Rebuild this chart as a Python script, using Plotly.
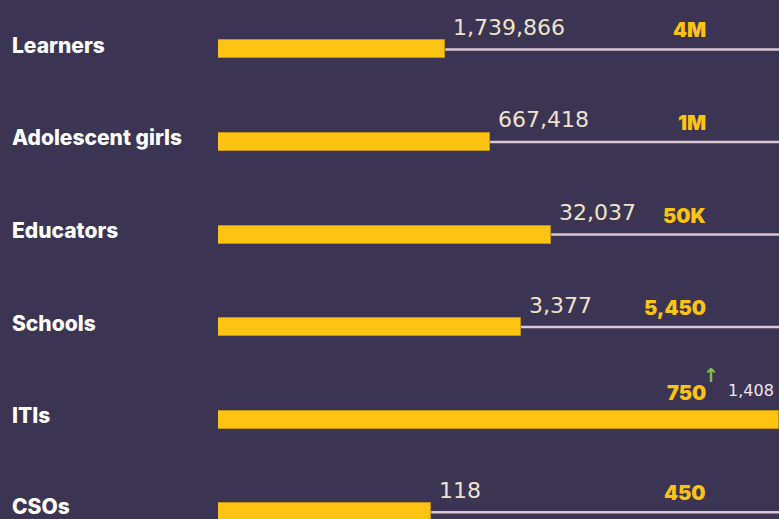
import plotly.graph_objects as go

# ---- data ----
categories = ["Learners", "Adolescent girls", "Educators", "Schools", "ITIs", "CSOs"]
achieved = [1739866, 667418, 32037, 3377, 1408, 118]
achieved_labels = ["1,739,866", "667,418", "32,037", "3,377", "1,408", "118"]
target_labels = ["4M", "1M", "50K", "5,450", "750", "450"]
# bar length as share of the track, as drawn in the reference
bar_share = [0.405, 0.485, 0.594, 0.540, 1.0, 0.380]

BG = "#3b3553"
GOLD = "#fdc312"
CREAM = "#efe3cc"
LINE = "#dcc8d2"

rows = list(range(len(categories)))

fig = go.Figure()

# target tracks (from bar end to the edge)
for i, s in zip(rows, bar_share):
    if s < 1:
        fig.add_trace(go.Scatter(
            x=[s, 1.0], y=[i, i], mode="lines",
            line=dict(color=LINE, width=2.5), hoverinfo="skip", showlegend=False))

fig.add_trace(go.Bar(
    x=bar_share, y=rows, orientation="h", width=0.1945,
    marker=dict(color=GOLD, line=dict(color="#c29411", width=1)),
    hoverinfo="skip", showlegend=False))

ann = []
for i, cat in zip(rows, categories):
    ann.append(dict(x=0, xref="paper", y=i, yref="y", text=cat, showarrow=False,
                    xanchor="left", xshift=-208, yanchor="middle",
                    yshift=(6 if i == len(categories) - 1 else 4),
                    font=dict(family="Inter", size=21, color="#ffffff", weight=800)))

for i, (s, lab, tgt) in enumerate(zip(bar_share, achieved_labels, target_labels)):
    ann.append(dict(x=0.8734, xref="paper", y=i, yref="y", text=tgt, showarrow=False,
                    xanchor="right", yanchor="middle", yshift=(27 if s >= 1 else 19),
                    font=dict(family="Inter", size=20, color=GOLD, weight=900)))
    if s < 1:
        ann.append(dict(x=s, xref="x", y=i, yref="y", text=lab, showarrow=False,
                        xanchor="left", xshift=6, yanchor="middle", yshift=22,
                        font=dict(family="DejaVu Sans", size=22, color=CREAM)))
    else:
        ann.append(dict(x=1.0, xref="paper", y=i, yref="y", text=lab, showarrow=False,
                        xanchor="right", xshift=-3, yanchor="middle", yshift=29,
                        font=dict(family="DejaVu Sans", size=16, color="#ece6ee")))
        ann.append(dict(x=0.8734, xref="paper", y=i, yref="y", text="↑", showarrow=False,
                        xanchor="center", xshift=3, yanchor="middle", yshift=45,
                        font=dict(family="DejaVu Sans", size=19, color="#7cc242", weight=700)))

fig.update_layout(
    width=779, height=519,
    margin=dict(l=218, r=0, t=0, b=0),
    paper_bgcolor=BG, plot_bgcolor=BG,
    xaxis=dict(range=[0, 1], visible=False, fixedrange=True),
    yaxis=dict(range=[5.074, -0.534], visible=False, fixedrange=True),
    annotations=ann,
    bargap=0,
)

fig.write_html("out.html", config={"displayModeBar": False})
